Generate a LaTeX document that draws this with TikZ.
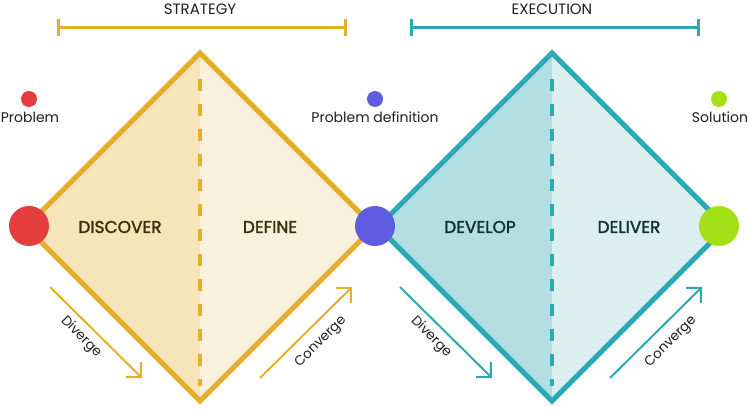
\documentclass[tikz,border=0pt]{standalone}
\usepackage{fontspec}
\setmainfont{Poppins}
\newfontfamily\medfont{Poppins}[FakeBold=1.6]
\usetikzlibrary{arrows.meta}
\definecolor{gold}{HTML}{E6AF2A}
\definecolor{goldA}{HTML}{F6E5B9}
\definecolor{goldB}{HTML}{FAF1DD}
\definecolor{goldText}{HTML}{3A2E0E}
\definecolor{teal}{HTML}{2BA9B4}
\definecolor{tealA}{HTML}{B3DEE2}
\definecolor{tealB}{HTML}{DBEEF0}
\definecolor{tealText}{HTML}{0E2F33}
\definecolor{redDot}{HTML}{E43D3D}
\definecolor{blueDot}{HTML}{5F5CE0}
\definecolor{greenDot}{HTML}{A3E016}
\definecolor{ink}{HTML}{1E1E1E}
\begin{document}
\begin{tikzpicture}[x=1pt, y=-1pt, >={Straight Barb[length=10.6pt,width=21.2pt]},
	flow/.style={line width=2pt, ->, line join=miter},
	span/.style={line width=3pt, {Bar[width=17pt]}-{Bar[width=17pt]}},
	dot/.style={circle, inner sep=0pt, minimum size=#1},
	small/.style={text=ink, font=\fontsize{14}{16}\selectfont},
	phase/.style={font=\fontsize{17}{19}\selectfont\medfont},
	turn/.style={text=ink, font=\fontsize{13.5}{15}\selectfont}]
	
	% Fix the page to the size of the reference
	\useasboundingbox (0,0) rectangle (749,411);
	
	% Draw the two diamonds, each split into a darker and a lighter half
	\foreach \cx/\col/\colA/\colB in {200/gold/goldA/goldB, 552/teal/tealA/tealB}{
		\fill[\colA] (\cx,53) -- (\cx-174,227) -- (\cx,401) -- cycle;
		\fill[\colB] (\cx,53) -- (\cx+174,227) -- (\cx,401) -- cycle;
		\draw[\col, line width=3.5pt, dash pattern=on 12pt off 13pt, dash phase=-7pt] (\cx,72) -- (\cx,386);
		\draw[\col, line width=5pt, line join=miter] (\cx,53) -- (\cx+174,227) -- (\cx,401) -- (\cx-174,227) -- cycle;
	}
	
	% Brackets over each diamond
	\coordinate (s1) at (57,28);
	\coordinate (s2) at (347,28);
	\coordinate (e1) at (410,28);
	\coordinate (e2) at (700,28);
	\draw[span, gold] (s1) -- (s2);
	\draw[span, teal] (e1) -- (e2);
	\node[small, font=\fontsize{15}{17}\selectfont] (strategy) at (200,9) {STRATEGY};
	\node[small, font=\fontsize{15}{17}\selectfont] (execution) at (552,9) {EXECUTION};
	
	% Big dots on the diamond corners
	\node[dot=40pt, fill=redDot] (problem) at (29,226) {};
	\node[dot=40pt, fill=blueDot] (definition) at (375,226) {};
	\node[dot=40pt, fill=greenDot] (solution) at (719,226) {};
	
	% Legend dots with their labels
	\node[dot=16pt, fill=redDot] (legProblem) at (29,99) {};
	\node[dot=16pt, fill=blueDot] (legDefinition) at (375,99) {};
	\node[dot=16pt, fill=greenDot] (legSolution) at (719,99) {};
	\node[small] (txtProblem) at (30,117) {Problem};
	\node[small] (txtDefinition) at (375,117) {Problem definition};
	\node[small] (txtSolution) at (720,117) {Solution};
	
	% Phase names
	\node[phase, text=goldText] (discover) at (120,227) {DISCOVER};
	\node[phase, text=goldText] (define) at (270,227) {DEFINE};
	\node[phase, text=tealText] (develop) at (480,227) {DEVELOP};
	\node[phase, text=tealText] (deliver) at (629,227) {DELIVER};
	
	% Diverge / converge arrows under each diamond
	\foreach \dx/\col/\n in {0/gold/a, 350/teal/b}{
		\coordinate (div1\n) at (50+\dx,287);
		\coordinate (div2\n) at (142+\dx,378);
		\coordinate (con1\n) at (260+\dx,378);
		\coordinate (con2\n) at (352+\dx,287);
		\draw[flow, \col] (div1\n) -- (div2\n);
		\draw[flow, \col] (con1\n) -- (con2\n);
		\node[turn, rotate=-45] (diverge\n) at (81+\dx,337) {Diverge};
		\node[turn, rotate=45] (converge\n) at (321+\dx,342) {Converge};
	}
	
\end{tikzpicture}
\end{document}
